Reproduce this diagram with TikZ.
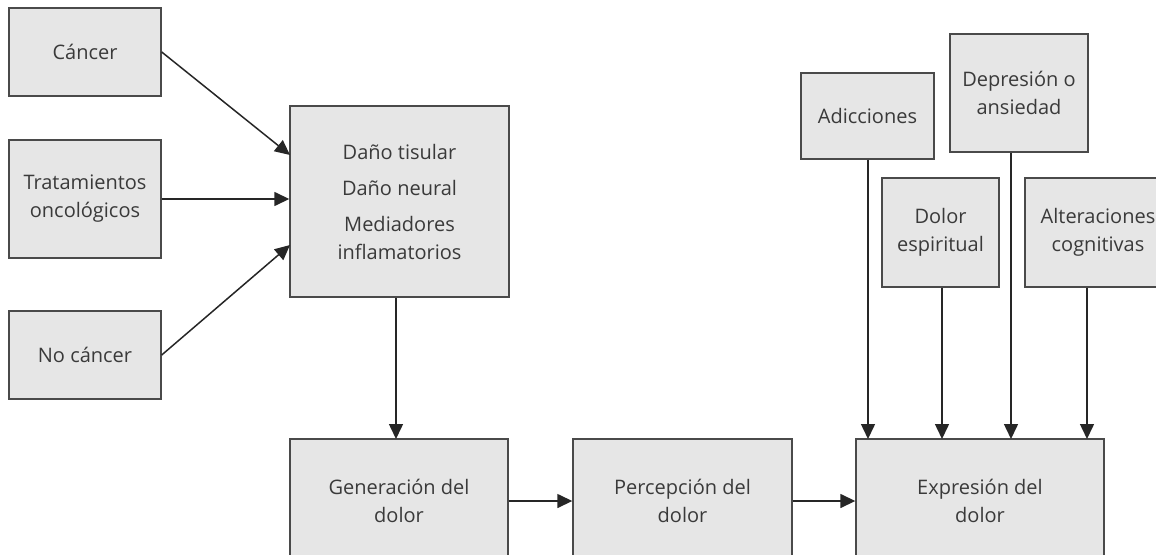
\documentclass[tikz,border=0pt]{standalone}
\usepackage{fontspec}
\setmainfont{Open Sans}
\usetikzlibrary{arrows.meta}
\definecolor{boxfill}{HTML}{E6E6E6}
\definecolor{boxline}{HTML}{4A4A4A}
\definecolor{txt}{HTML}{3A3A3A}
\tikzset{
  box/.style={draw=boxline, fill=boxfill, line width=1.4pt, rectangle, inner sep=0pt,
    align=center, text=txt, font=\fontsize{20}{28}\selectfont},
  arr/.style={draw=black!85, line width=1.5pt, -{Triangle[length=15pt,width=14pt]}}
}
\begin{document}
\begin{tikzpicture}[x=1pt,y=-1pt]
\useasboundingbox (0,0) rectangle (1156,554);
\clip (0,0) rectangle (1156,554);
\node[box, minimum width=152pt, minimum height=88pt] (canc) at (85,52) {Cáncer};
\node[box, minimum width=152pt, minimum height=118pt] (trat) at (85,199) {Tratamientos\\oncológicos};
\node[box, minimum width=152pt, minimum height=88pt] (noc) at (85,355) {No cáncer};
\node[box, minimum width=219pt, minimum height=191pt] (dano) at (399.5,201.5) {Daño tisular\\[8pt]Daño neural\\[8pt]Mediadores\\inflamatorios};
\node[box, minimum width=218pt, minimum height=124pt] (gen) at (399,501) {Generación del\\dolor};
\node[box, minimum width=219pt, minimum height=124pt] (per) at (682.5,501) {Percepción del\\dolor};
\node[box, minimum width=248pt, minimum height=124pt] (exp) at (980,501) {Expresión del\\dolor};
\node[box, minimum width=133pt, minimum height=86pt] (adic) at (867.5,116) {Adicciones};
\node[box, minimum width=138pt, minimum height=118pt] (dep) at (1019,93) {Depresión o\\ansiedad};
\node[box, minimum width=117pt, minimum height=109pt] (desp) at (940.5,232.5) {Dolor\\espiritual};
\node[box, minimum width=146pt, minimum height=109pt] (alt) at (1098,232.5) {Alteraciones\\cognitivas};
% free ends
\coordinate (d1) at (290,155);
\coordinate (d3) at (290,245);
\coordinate (g1) at (396,439);
\coordinate (e1) at (868,439);
\coordinate (e2) at (942,439);
\coordinate (e3) at (1011,439);
\coordinate (e4) at (1087,439);
\draw[arr] (canc.east) -- (d1);
\draw[arr] (trat.east) -- (trat.east -| dano.west);
\draw[arr] (noc.east) -- (d3);
\draw[arr] (dano.south -| g1) -- (g1);
\draw[arr] (gen.east) -- (per.west);
\draw[arr] (per.east) -- (exp.west);
\draw[arr] (adic.south -| e1) -- (e1);
\draw[arr] (desp.south -| e2) -- (e2);
\draw[arr] (dep.south -| e3) -- (e3);
\draw[arr] (alt.south -| e4) -- (e4);
\end{tikzpicture}
\end{document}
